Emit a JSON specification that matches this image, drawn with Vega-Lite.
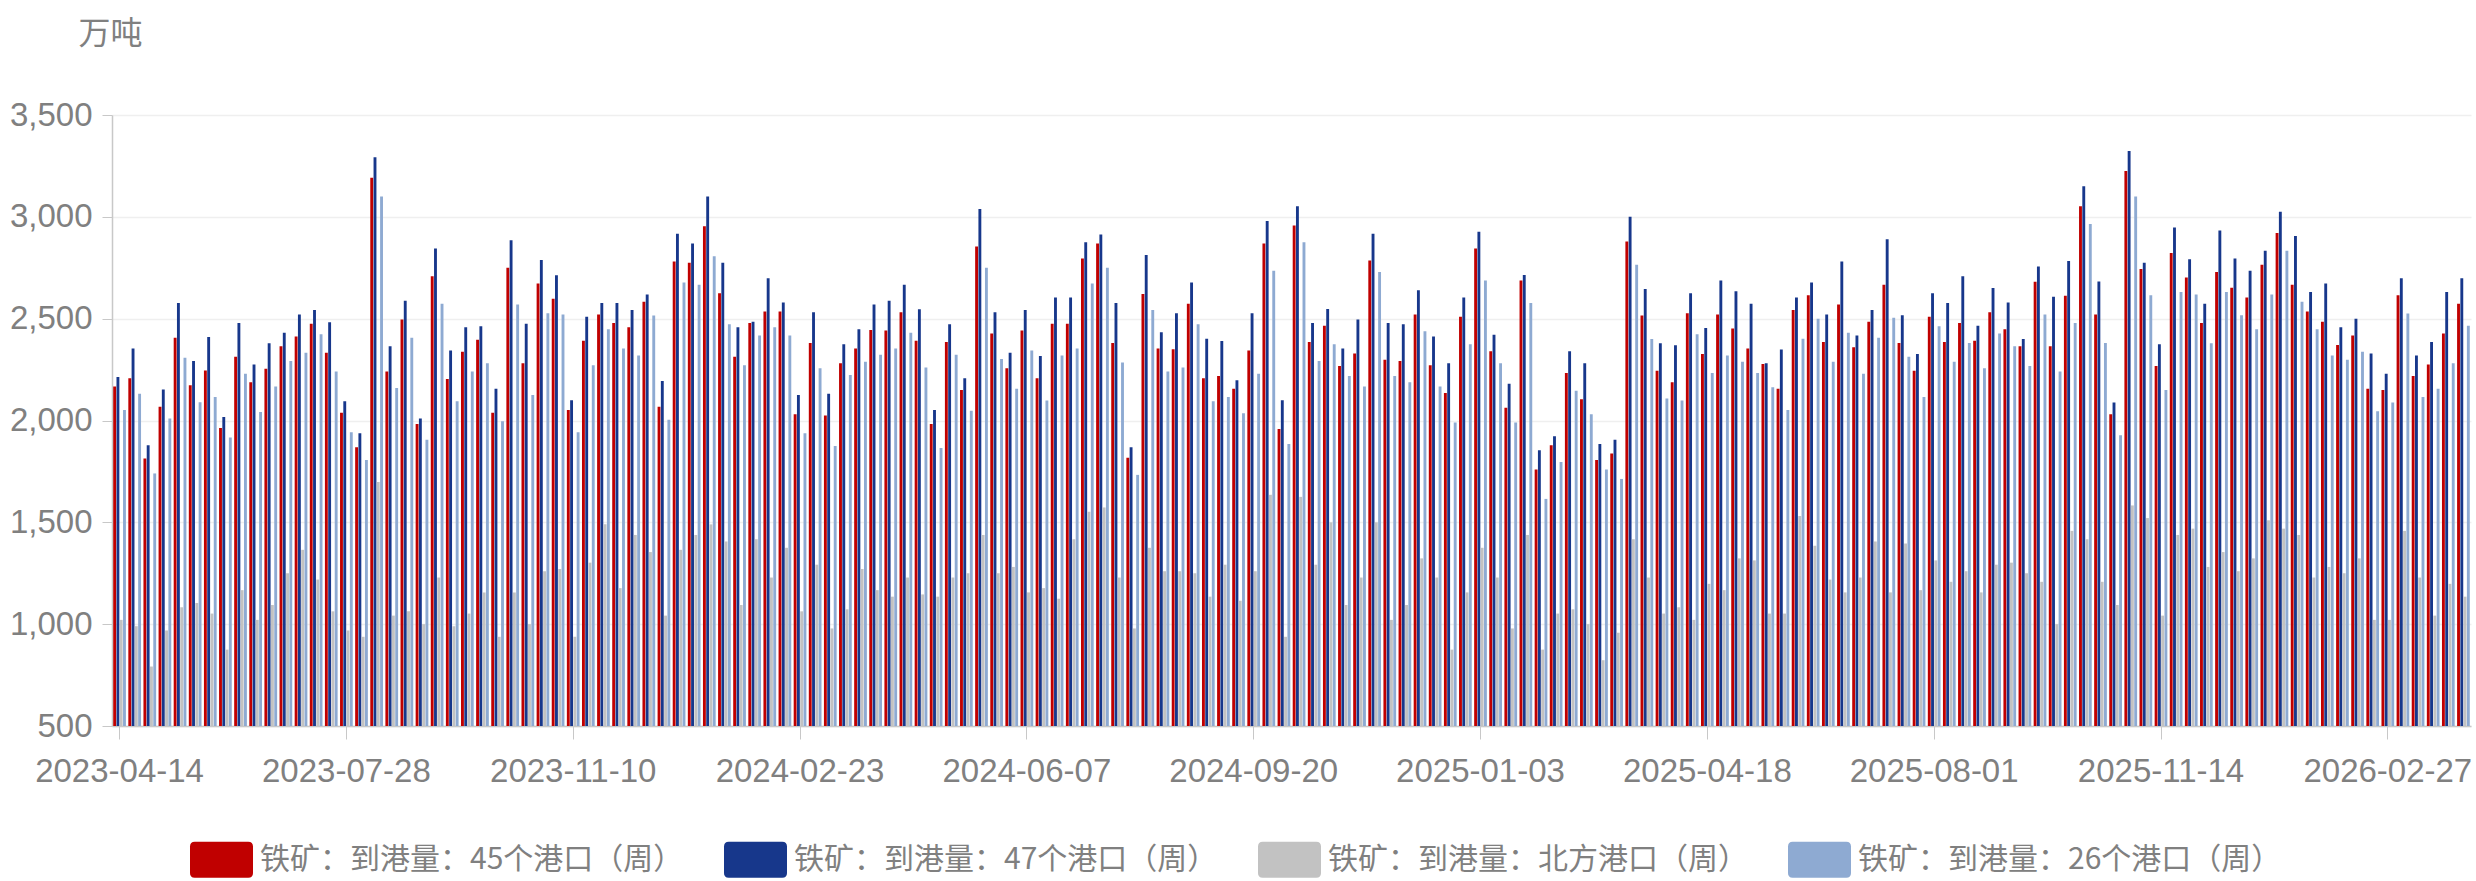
{
"$schema": "https://vega.github.io/schema/vega-lite/v6.json",
"width": 2359, "height": 611,
"autosize": {"type": "none"},
"padding": {"left": 112, "top": 115, "right": 5, "bottom": 155},
"background": "white",
"config": {"view": {"stroke": null}},
"data": {"values": [
{"d":"2023-04-14","a":2167,"b":2213,"c":1021,"e":2052},
{"d":"2023-04-21","a":2208,"b":2354,"c":990,"e":2131},
{"d":"2023-04-28","a":1813,"b":1879,"c":792,"e":1740},
{"d":"2023-05-05","a":2067,"b":2152,"c":969,"e":2010},
{"d":"2023-05-12","a":2406,"b":2577,"c":1083,"e":2308},
{"d":"2023-05-19","a":2173,"b":2292,"c":1104,"e":2090},
{"d":"2023-05-26","a":2246,"b":2410,"c":1052,"e":2115},
{"d":"2023-06-02","a":1963,"b":2017,"c":875,"e":1917},
{"d":"2023-06-09","a":2313,"b":2479,"c":1167,"e":2229},
{"d":"2023-06-16","a":2188,"b":2275,"c":1021,"e":2042},
{"d":"2023-06-23","a":2254,"b":2379,"c":1094,"e":2167},
{"d":"2023-06-30","a":2365,"b":2431,"c":1250,"e":2292},
{"d":"2023-07-07","a":2413,"b":2521,"c":1365,"e":2333},
{"d":"2023-07-14","a":2475,"b":2542,"c":1219,"e":2423},
{"d":"2023-07-21","a":2333,"b":2483,"c":1063,"e":2240},
{"d":"2023-07-28","a":2038,"b":2094,"c":969,"e":1942},
{"d":"2023-08-04","a":1869,"b":1938,"c":938,"e":1806},
{"d":"2023-08-11","a":3192,"b":3292,"c":1698,"e":3100},
{"d":"2023-08-18","a":2240,"b":2365,"c":1042,"e":2160},
{"d":"2023-08-25","a":2496,"b":2588,"c":1063,"e":2406},
{"d":"2023-09-01","a":1983,"b":2010,"c":1000,"e":1906},
{"d":"2023-09-08","a":2708,"b":2844,"c":1229,"e":2573},
{"d":"2023-09-15","a":2204,"b":2344,"c":990,"e":2094},
{"d":"2023-09-22","a":2338,"b":2458,"c":1052,"e":2240},
{"d":"2023-09-29","a":2396,"b":2463,"c":1156,"e":2281},
{"d":"2023-10-06","a":2038,"b":2156,"c":938,"e":1996},
{"d":"2023-10-13","a":2750,"b":2885,"c":1156,"e":2569},
{"d":"2023-10-20","a":2281,"b":2475,"c":1000,"e":2125},
{"d":"2023-10-27","a":2673,"b":2788,"c":1260,"e":2527},
{"d":"2023-11-03","a":2598,"b":2713,"c":1271,"e":2521},
{"d":"2023-11-10","a":2052,"b":2100,"c":938,"e":1942},
{"d":"2023-11-17","a":2392,"b":2510,"c":1302,"e":2271},
{"d":"2023-11-24","a":2521,"b":2577,"c":1490,"e":2448},
{"d":"2023-12-01","a":2479,"b":2577,"c":1177,"e":2354},
{"d":"2023-12-08","a":2458,"b":2542,"c":1438,"e":2319},
{"d":"2023-12-15","a":2583,"b":2619,"c":1354,"e":2515},
{"d":"2023-12-22","a":2067,"b":2194,"c":1042,"e":2004},
{"d":"2023-12-29","a":2781,"b":2917,"c":1365,"e":2677},
{"d":"2024-01-05","a":2775,"b":2869,"c":1438,"e":2667},
{"d":"2024-01-12","a":2954,"b":3100,"c":1490,"e":2806},
{"d":"2024-01-19","a":2625,"b":2775,"c":1406,"e":2473},
{"d":"2024-01-26","a":2313,"b":2458,"c":1094,"e":2271},
{"d":"2024-02-02","a":2479,"b":2485,"c":1417,"e":2417},
{"d":"2024-02-09","a":2535,"b":2698,"c":1229,"e":2458},
{"d":"2024-02-16","a":2535,"b":2579,"c":1375,"e":2417},
{"d":"2024-02-23","a":2031,"b":2125,"c":1063,"e":1938},
{"d":"2024-03-01","a":2381,"b":2531,"c":1292,"e":2256},
{"d":"2024-03-08","a":2025,"b":2131,"c":979,"e":1875},
{"d":"2024-03-15","a":2281,"b":2375,"c":1073,"e":2223},
{"d":"2024-03-22","a":2354,"b":2448,"c":1271,"e":2288},
{"d":"2024-03-29","a":2444,"b":2569,"c":1167,"e":2323},
{"d":"2024-04-05","a":2442,"b":2588,"c":1135,"e":2354},
{"d":"2024-04-12","a":2531,"b":2667,"c":1229,"e":2431},
{"d":"2024-04-19","a":2392,"b":2546,"c":1146,"e":2260},
{"d":"2024-04-26","a":1983,"b":2052,"c":1135,"e":1865},
{"d":"2024-05-03","a":2385,"b":2473,"c":1229,"e":2323},
{"d":"2024-05-10","a":2150,"b":2208,"c":1250,"e":2048},
{"d":"2024-05-17","a":2854,"b":3038,"c":1438,"e":2750},
{"d":"2024-05-24","a":2427,"b":2531,"c":1250,"e":2302},
{"d":"2024-05-31","a":2256,"b":2333,"c":1281,"e":2156},
{"d":"2024-06-07","a":2442,"b":2542,"c":1156,"e":2344},
{"d":"2024-06-14","a":2208,"b":2317,"c":1177,"e":2098},
{"d":"2024-06-21","a":2475,"b":2604,"c":1125,"e":2319},
{"d":"2024-06-28","a":2475,"b":2604,"c":1417,"e":2354},
{"d":"2024-07-05","a":2796,"b":2875,"c":1552,"e":2673},
{"d":"2024-07-12","a":2869,"b":2913,"c":1573,"e":2750},
{"d":"2024-07-19","a":2381,"b":2577,"c":1229,"e":2285},
{"d":"2024-07-26","a":1817,"b":1869,"c":979,"e":1733},
{"d":"2024-08-02","a":2621,"b":2813,"c":1375,"e":2542},
{"d":"2024-08-09","a":2354,"b":2433,"c":1260,"e":2240},
{"d":"2024-08-16","a":2350,"b":2527,"c":1260,"e":2260},
{"d":"2024-08-23","a":2573,"b":2677,"c":1250,"e":2473},
{"d":"2024-08-30","a":2208,"b":2402,"c":1135,"e":2094},
{"d":"2024-09-06","a":2219,"b":2390,"c":1292,"e":2115},
{"d":"2024-09-13","a":2156,"b":2198,"c":1115,"e":2035},
{"d":"2024-09-20","a":2344,"b":2527,"c":1260,"e":2229},
{"d":"2024-09-27","a":2869,"b":2979,"c":1635,"e":2735},
{"d":"2024-10-04","a":1958,"b":2100,"c":938,"e":1885},
{"d":"2024-10-11","a":2958,"b":3052,"c":1625,"e":2875},
{"d":"2024-10-18","a":2385,"b":2479,"c":1292,"e":2292},
{"d":"2024-10-25","a":2465,"b":2548,"c":1500,"e":2375},
{"d":"2024-11-01","a":2267,"b":2354,"c":1094,"e":2219},
{"d":"2024-11-08","a":2329,"b":2496,"c":1229,"e":2167},
{"d":"2024-11-15","a":2785,"b":2917,"c":1500,"e":2729},
{"d":"2024-11-22","a":2298,"b":2479,"c":1021,"e":2219},
{"d":"2024-11-29","a":2292,"b":2473,"c":1094,"e":2188},
{"d":"2024-12-06","a":2521,"b":2640,"c":1323,"e":2438},
{"d":"2024-12-13","a":2271,"b":2413,"c":1229,"e":2167},
{"d":"2024-12-20","a":2135,"b":2281,"c":875,"e":1990},
{"d":"2024-12-27","a":2510,"b":2604,"c":1156,"e":2375},
{"d":"2025-01-03","a":2844,"b":2927,"c":1375,"e":2688},
{"d":"2025-01-10","a":2340,"b":2421,"c":1229,"e":2281},
{"d":"2025-01-17","a":2063,"b":2181,"c":979,"e":1990},
{"d":"2025-01-24","a":2688,"b":2715,"c":1438,"e":2577},
{"d":"2025-01-31","a":1760,"b":1854,"c":875,"e":1615},
{"d":"2025-02-07","a":1879,"b":1923,"c":1052,"e":1796},
{"d":"2025-02-14","a":2233,"b":2340,"c":1073,"e":2146},
{"d":"2025-02-21","a":2104,"b":2281,"c":1000,"e":2031},
{"d":"2025-02-28","a":1806,"b":1885,"c":823,"e":1760},
{"d":"2025-03-07","a":1838,"b":1906,"c":958,"e":1713},
{"d":"2025-03-14","a":2879,"b":3000,"c":1417,"e":2765},
{"d":"2025-03-21","a":2515,"b":2646,"c":1229,"e":2400},
{"d":"2025-03-28","a":2244,"b":2379,"c":1052,"e":2108},
{"d":"2025-04-04","a":2188,"b":2369,"c":1083,"e":2098},
{"d":"2025-04-11","a":2527,"b":2625,"c":1021,"e":2423},
{"d":"2025-04-18","a":2327,"b":2454,"c":1198,"e":2233},
{"d":"2025-04-25","a":2521,"b":2688,"c":1167,"e":2319},
{"d":"2025-05-02","a":2452,"b":2635,"c":1323,"e":2288},
{"d":"2025-05-09","a":2354,"b":2573,"c":1313,"e":2233},
{"d":"2025-05-16","a":2277,"b":2281,"c":1052,"e":2163},
{"d":"2025-05-23","a":2156,"b":2348,"c":1052,"e":2052},
{"d":"2025-05-30","a":2542,"b":2604,"c":1531,"e":2402},
{"d":"2025-06-06","a":2615,"b":2677,"c":1385,"e":2500},
{"d":"2025-06-13","a":2385,"b":2521,"c":1219,"e":2288},
{"d":"2025-06-20","a":2569,"b":2781,"c":1156,"e":2431},
{"d":"2025-06-27","a":2360,"b":2417,"c":1229,"e":2229},
{"d":"2025-07-04","a":2485,"b":2542,"c":1406,"e":2406},
{"d":"2025-07-11","a":2667,"b":2890,"c":1156,"e":2504},
{"d":"2025-07-18","a":2381,"b":2517,"c":1396,"e":2313},
{"d":"2025-07-25","a":2244,"b":2327,"c":1167,"e":2115},
{"d":"2025-08-01","a":2510,"b":2625,"c":1313,"e":2463},
{"d":"2025-08-08","a":2385,"b":2577,"c":1208,"e":2288},
{"d":"2025-08-15","a":2479,"b":2708,"c":1260,"e":2381},
{"d":"2025-08-22","a":2392,"b":2465,"c":1156,"e":2256},
{"d":"2025-08-29","a":2531,"b":2650,"c":1292,"e":2427},
{"d":"2025-09-05","a":2448,"b":2579,"c":1302,"e":2365},
{"d":"2025-09-12","a":2365,"b":2400,"c":1250,"e":2267},
{"d":"2025-09-19","a":2681,"b":2756,"c":1208,"e":2521},
{"d":"2025-09-26","a":2365,"b":2608,"c":1000,"e":2240},
{"d":"2025-10-03","a":2613,"b":2783,"c":1458,"e":2479},
{"d":"2025-10-10","a":3052,"b":3150,"c":1417,"e":2965},
{"d":"2025-10-17","a":2521,"b":2683,"c":1208,"e":2381},
{"d":"2025-10-24","a":2031,"b":2088,"c":1094,"e":1927},
{"d":"2025-10-31","a":3225,"b":3323,"c":1583,"e":3100},
{"d":"2025-11-07","a":2744,"b":2775,"c":1521,"e":2615},
{"d":"2025-11-14","a":2267,"b":2375,"c":1042,"e":2150},
{"d":"2025-11-21","a":2823,"b":2948,"c":1438,"e":2631},
{"d":"2025-11-28","a":2702,"b":2792,"c":1469,"e":2619},
{"d":"2025-12-05","a":2479,"b":2573,"c":1281,"e":2379},
{"d":"2025-12-12","a":2729,"b":2933,"c":1354,"e":2631},
{"d":"2025-12-19","a":2652,"b":2796,"c":1260,"e":2517},
{"d":"2025-12-26","a":2604,"b":2735,"c":1323,"e":2448},
{"d":"2026-01-02","a":2765,"b":2833,"c":1510,"e":2619},
{"d":"2026-01-09","a":2921,"b":3025,"c":1469,"e":2833},
{"d":"2026-01-16","a":2667,"b":2906,"c":1438,"e":2583},
{"d":"2026-01-23","a":2535,"b":2631,"c":1229,"e":2448},
{"d":"2026-01-30","a":2485,"b":2673,"c":1281,"e":2319},
{"d":"2026-02-06","a":2371,"b":2458,"c":1250,"e":2298},
{"d":"2026-02-13","a":2417,"b":2500,"c":1323,"e":2338},
{"d":"2026-02-20","a":2156,"b":2329,"c":1021,"e":2046},
{"d":"2026-02-27","a":2150,"b":2229,"c":1021,"e":2088},
{"d":"2026-03-06","a":2615,"b":2698,"c":1458,"e":2525},
{"d":"2026-03-13","a":2219,"b":2319,"c":1229,"e":2115},
{"d":"2026-03-20","a":2275,"b":2385,"c":1042,"e":2156},
{"d":"2026-03-27","a":2427,"b":2631,"c":1198,"e":2281},
{"d":"2026-04-03","a":2573,"b":2698,"c":1135,"e":2465}
]},
"transform": [{"fold": ["a", "b", "c", "e"], "as": ["k", "v"]}],
"mark": {"type": "bar"},
"encoding": {
  "x": {
    "field": "d", "type": "ordinal", "sort": null,
    "scale": {"paddingInner": 0.16, "paddingOuter": 0.08},
    "axis": {
      "title": null,
      "values": ["2023-04-14","2023-07-28","2023-11-10","2024-02-23","2024-06-07","2024-09-20","2025-01-03","2025-04-18","2025-08-01","2025-11-14","2026-02-27"],
      "labelAngle": 0, "labelFont": "Liberation Sans", "labelFontSize": 33, "labelColor": "#808080", "labelLimit": 400,
      "labelPadding": 16, "tickSize": 13, "tickColor": "#c8c8c8", "domainColor": "#c8c8c8", "domainWidth": 1.5,
      "grid": false
    }
  },
  "xOffset": {"field": "k", "type": "nominal", "scale": {"paddingInner": 0.12}},
  "y": {
    "field": "v", "type": "quantitative",
    "scale": {"domain": [500, 3500], "zero": false, "nice": false},
    "axis": {
      "values": [500, 1000, 1500, 2000, 2500, 3000, 3500],
      "format": ",d", "labelFont": "Liberation Sans", "labelFontSize": 33, "labelColor": "#808080", "labelLimit": 400,
      "labelPadding": 10, "tickSize": 10, "tickColor": "#c8c8c8", "domainColor": "#c8c8c8", "domainWidth": 1.5,
      "gridColor": "#efefef", "gridWidth": 1.5,
      "title": "万吨", "titleAngle": 0, "titleX": -2, "titleY": -82, "titleAlign": "center", "titleBaseline": "middle",
      "titleFont": "Noto Sans CJK SC", "titleFontSize": 32, "titleFontWeight": "normal", "titleColor": "#808080"
    }
  },
  "y2": {"datum": 500},
  "color": {
    "field": "k", "type": "nominal",
    "scale": {"domain": ["a", "b", "c", "e"], "range": ["#c00000", "#17378b", "#c2c2c2", "#8eaad2"]},
    "legend": {
      "title": null, "orient": "none", "direction": "horizontal", "legendX": 78, "legendY": 713,
      "symbolType": "M-0.85,-0.57H0.85Q1,-0.57 1,-0.42V0.42Q1,0.57 0.85,0.57H-0.85Q-1,0.57 -1,0.42V-0.42Q-1,-0.57 -0.85,-0.57Z",
      "symbolSize": 3969, "symbolStrokeWidth": 0, "symbolOpacity": 1,
      "labelFont": "Noto Sans CJK SC", "labelFontSize": 30, "labelColor": "#808080", "labelLimit": 1000, "labelOffset": 7,
      "columnPadding": 40,
      "labelExpr": "datum.label == 'a' ? '铁矿：到港量：45个港口（周）' : datum.label == 'b' ? '铁矿：到港量：47个港口（周）' : datum.label == 'c' ? '铁矿：到港量：北方港口（周）' : '铁矿：到港量：26个港口（周）'"
    }
  }
}
}
